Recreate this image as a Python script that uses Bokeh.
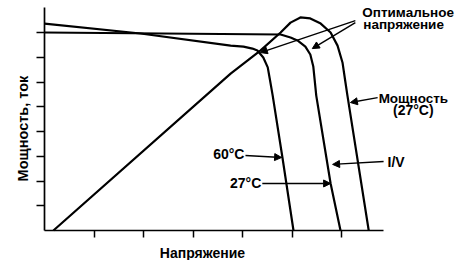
from bokeh.plotting import figure
from bokeh.models import FixedTicker, Label, Arrow, NormalHead
from bokeh.embed import file_html
from bokeh.resources import INLINE

# Curves (x in voltage-tick units, y in power/current-tick units)
iv60_x = [0.0, 1.94, 3.76, 4.02, 4.20, 4.30, 4.42, 4.51, 4.55, 4.61, 4.81, 5.03]
iv60_y = [8.36, 7.96, 7.47, 7.43, 7.35, 7.27, 6.99, 6.59, 6.14, 5.45, 2.91, 0.0]

iv27_x = [0.0, 4.77, 4.97, 5.11, 5.27, 5.37, 5.43, 5.49, 5.78, 5.98]
iv27_y = [8.0, 7.92, 7.80, 7.68, 7.43, 7.11, 6.63, 5.45, 1.90, 0.0]

pw27_x = [0.18, 3.76, 4.36, 4.77, 4.97, 5.17, 5.37, 5.58, 5.78, 5.92, 6.02, 6.08, 6.12, 6.55]
pw27_y = [0.0, 6.34, 7.27, 8.0, 8.40, 8.61, 8.57, 8.36, 8.0, 7.47, 6.79, 5.98, 5.45, 0.0]

x_ticks = [1, 2, 3, 4, 5, 6]
y_ticks = [1, 2, 3, 4, 5, 6, 7, 8]
x_axis_end = 6.85
y_axis_end = 9.0

# Annotation arrows: (x_start, y_start, x_end, y_end)
arrows = [
    (6.28, 8.48, 4.36, 7.19),   # Оптимальное напряжение -> 60°C knee
    (6.28, 8.40, 5.41, 7.35),   # Оптимальное напряжение -> 27°C knee
    (6.73, 5.37, 6.18, 5.17),   # Мощность (27°C)
    (6.85, 2.79, 5.82, 2.67),   # I/V
    (4.06, 3.03, 4.79, 2.95),   # 60°C
    (4.40, 1.90, 5.78, 1.90),   # 27°C
]

FONT = "Liberation Sans"

p = figure(width=462, height=260,
           x_range=(-44 / 49.5, 418 / 49.5), y_range=(-30 / 24.75, 230 / 24.75),
           output_backend="svg", toolbar_location=None, min_border=0)
p.outline_line_color = None
p.xgrid.visible = False
p.ygrid.visible = False
p.background_fill_color = "white"
p.border_fill_color = "white"

for ax, ticks, tout, end in ((p.xaxis[0], x_ticks, 7, x_axis_end), (p.yaxis[0], y_ticks, 8, y_axis_end)):
    ax.fixed_location = 0
    ax.bounds = (0, end)
    ax.ticker = FixedTicker(ticks=ticks)
    ax.major_tick_in = 0
    ax.major_tick_out = tout
    ax.minor_tick_line_color = None
    ax.major_label_text_color = None
    ax.axis_line_width = 1.7
    ax.major_tick_line_width = 1.5
    ax.axis_line_color = "black"
    ax.major_tick_line_color = "black"

lw = 2.2
p.line(iv60_x, iv60_y, line_color="black", line_width=lw)
p.line(iv27_x, iv27_y, line_color="black", line_width=lw)
p.line(pw27_x, pw27_y, line_color="black", line_width=lw)

for xs, ys, xe, ye in arrows:
    p.add_layout(Arrow(x_start=xs, y_start=ys, x_end=xe, y_end=ye, line_width=1.4,
                       line_color="black",
                       end=NormalHead(size=7, fill_color="black", line_color="black", line_width=1)))

def lab(x, y, t, align="left", angle=0.0, size="14px"):
    p.add_layout(Label(x=x, y=y, text=t, text_font=FONT, text_font_size=size,
                       text_font_style="bold", text_color="black", text_align=align,
                       text_baseline="middle", angle=angle))

lab(6.42, 8.81, "Оптимальное", size="13.5px")
lab(6.44, 8.33, "напряжение", size="13.5px")
lab(6.75, 5.33, "Мощность", size="13.5px")
lab(7.45, 4.85, "(27°C)", align="center")
lab(6.93, 2.75, "I/V")
lab(4.04, 3.11, "60°C", align="right")
lab(4.38, 1.90, "27°C", align="right")
lab(3.19, -0.89, "Напряжение", align="center")
lab(-0.44, 4.12, "Мощность, ток", align="center", angle=1.5708, size="14.5px")

open("out.html", "w").write(file_html(p, INLINE))
